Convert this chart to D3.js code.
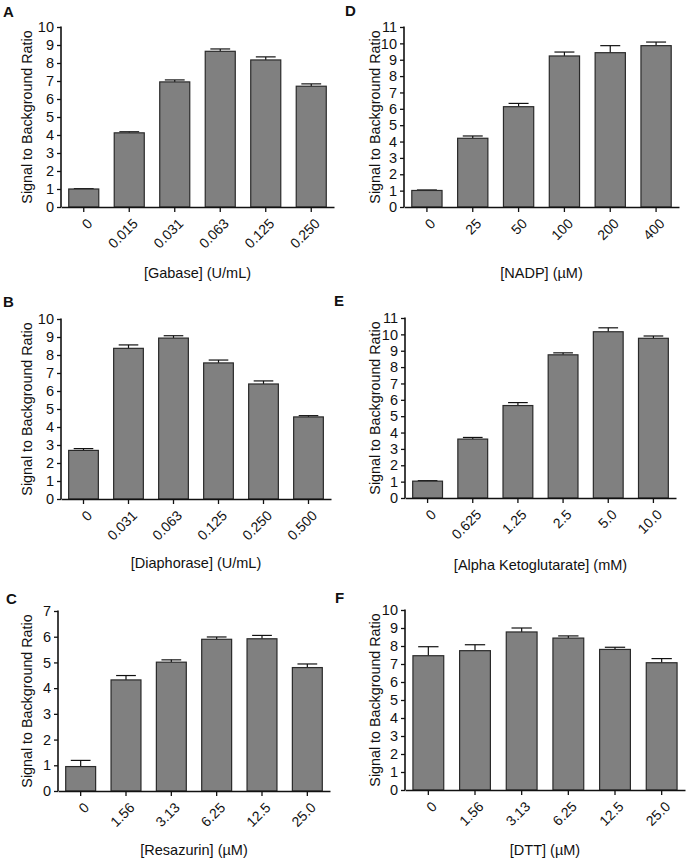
<!DOCTYPE html>
<html>
<head>
<meta charset="utf-8">
<script src="https://cdn.jsdelivr.net/npm/d3@7"></script>
<style>
  body { margin: 0; background: #fff; }
  svg text { font-family: Arial, "Liberation Sans", Helvetica, sans-serif; fill: #111; }
</style>
</head>
<body>
<div id="chart"></div>
<script>
var yTitle = 'Signal to Background Ratio';

var catsA = ['0', '0.015', '0.031', '0.063', '0.125', '0.250'];
var valsA = [1.0, 4.12, 6.95, 8.65, 8.17, 6.71];
var errA = [0.02, 0.06, 0.11, 0.13, 0.17, 0.13];

var catsB = ['0', '0.031', '0.063', '0.125', '0.250', '0.500'];
var valsB = [2.70, 8.37, 8.94, 7.56, 6.39, 4.56];
var errB = [0.10, 0.19, 0.13, 0.16, 0.17, 0.07];

var catsC = ['0', '1.56', '3.13', '6.25', '12.5', '25.0'];
var valsC = [0.95, 4.32, 5.01, 5.90, 5.92, 4.80];
var errC = [0.24, 0.17, 0.09, 0.09, 0.13, 0.14];

var catsD = ['0', '25', '50', '100', '200', '400'];
var valsD = [1.01, 4.20, 6.13, 9.23, 9.43, 9.86];
var errD = [0.03, 0.14, 0.20, 0.24, 0.43, 0.22];

var catsE = ['0', '0.625', '1.25', '2.5', '5.0', '10.0'];
var valsE = [1.03, 3.60, 5.65, 8.75, 10.16, 9.76];
var errE = [0.03, 0.10, 0.18, 0.12, 0.24, 0.14];

var catsF = ['0', '1.56', '3.13', '6.25', '12.5', '25.0'];
var valsF = [7.46, 7.74, 8.78, 8.44, 7.81, 7.07];
var errF = [0.50, 0.33, 0.22, 0.12, 0.12, 0.23];

(function(){

  var svg = d3.select('#chart')
    .append('svg')
    .attr('width', 689)
    .attr('height', 861);

  function panel(p) {
    var x = d3.scaleBand()
      .domain(p.cats)
      .range([p.x0, p.x1])
      .paddingInner(0.34)
      .paddingOuter(0.17);

    var y = d3.scaleLinear()
      .domain([0, p.ymax])
      .range([p.y1, p.y0]);

    var g = svg.append('g');
    var rows = p.cats.map(function(c, i) {
      return {cat: c, v: p.vals[i], e: p.errs[i]};
    });

    // error bars (upper only), drawn under the bars
    var capW = x.bandwidth() * 0.66;
    var eb = g.selectAll('g.err')
      .data(rows)
      .enter()
      .append('g')
      .attr('class', 'err')
      .attr('stroke', '#111')
      .attr('stroke-width', 1.2);
    eb.append('line')
      .attr('x1', function(d) {return x(d.cat) + x.bandwidth() / 2;})
      .attr('x2', function(d) {return x(d.cat) + x.bandwidth() / 2;})
      .attr('y1', function(d) {return y(d.v);})
      .attr('y2', function(d) {return y(d.v + d.e);});
    eb.append('line')
      .attr('x1', function(d) {return x(d.cat) + x.bandwidth() / 2 - capW / 2;})
      .attr('x2', function(d) {return x(d.cat) + x.bandwidth() / 2 + capW / 2;})
      .attr('y1', function(d) {return y(d.v + d.e);})
      .attr('y2', function(d) {return y(d.v + d.e);});

    g.selectAll('rect.bar')
      .data(rows)
      .enter()
      .append('rect')
      .attr('class', 'bar')
      .attr('x', function(d) {return x(d.cat);})
      .attr('width', x.bandwidth())
      .attr('y', function(d) {return y(d.v);})
      .attr('height', function(d) {return y(0) - y(d.v);})
      .attr('fill', '#808080')
      .attr('stroke', '#2a2a2a')
      .attr('stroke-width', 1.2);

    // y axis
    var ya = g.append('g')
      .attr('transform', 'translate(' + p.x0 + ',0)')
      .call(d3.axisLeft(y).ticks(p.ymax).tickSize(4).tickPadding(3).tickSizeOuter(0));
    ya.select('.domain').attr('stroke', '#111').attr('stroke-width', 1.6)
      .attr('d', 'M0,' + (p.y0 - 0.5) + 'V' + p.y1);
    ya.selectAll('.tick line').attr('stroke', '#111').attr('stroke-width', 1.3);
    ya.selectAll('.tick text').attr('font-size', 14.5).style('fill', '#111');

    // x axis
    var xa = g.append('g')
      .attr('transform', 'translate(0,' + p.y1 + ')')
      .call(d3.axisBottom(x).tickSize(5).tickSizeOuter(0));
    xa.select('.domain').attr('stroke', '#111').attr('stroke-width', 1.6);
    xa.selectAll('.tick line').attr('stroke', '#111').attr('stroke-width', 1.3);
    xa.selectAll('.tick text')
      .attr('font-size', 14)
      .style('fill', '#111')
      .attr('text-anchor', 'end')
      .attr('y', 0)
      .attr('dy', '0.35em')
      .attr('transform', 'translate(6,14) rotate(-45)');

    g.append('text')
      .attr('x', (p.x0 + p.x1) / 2)
      .attr('y', p.y1 + p.titleDy)
      .attr('text-anchor', 'middle')
      .attr('font-size', 14.5)
      .text(p.xTitle);

    g.append('text')
      .attr('transform', 'translate(' + p.ylx + ',' + (p.y0 + p.y1) / 2 + ') rotate(-90)')
      .attr('text-anchor', 'middle')
      .attr('dy', '0.35em')
      .attr('font-size', 14.3)
      .text(yTitle);

    g.append('text')
      .attr('x', p.lx)
      .attr('y', p.ly)
      .attr('font-size', 15)
      .attr('font-weight', 'bold')
      .text(p.label);
  }

  panel({label: 'A', lx: 3, ly: 17, cats: catsA, vals: valsA, errs: errA, ymax: 10,
    x0: 61, x1: 334, y0: 27, y1: 207, ylx: 27, titleDy: 71, xTitle: '[Gabase] (U/mL)'});
  panel({label: 'B', lx: 3, ly: 307, cats: catsB, vals: valsB, errs: errB, ymax: 10,
    x0: 61, x1: 331, y0: 319, y1: 499, ylx: 27, titleDy: 69, xTitle: '[Diaphorase] (U/mL)'});
  panel({label: 'C', lx: 6, ly: 604, cats: catsC, vals: valsC, errs: errC, ymax: 7,
    x0: 58, x1: 330, y0: 611, y1: 791, ylx: 27, titleDy: 64, xTitle: '[Resazurin] (\u00b5M)'});
  panel({label: 'D', lx: 345, ly: 16, cats: catsD, vals: valsD, errs: errD, ymax: 11,
    x0: 404, x1: 679, y0: 27, y1: 207, ylx: 375, titleDy: 71, xTitle: '[NADP] (\u00b5M)'});
  panel({label: 'E', lx: 334, ly: 306, cats: catsE, vals: valsE, errs: errE, ymax: 11,
    x0: 405, x1: 676, y0: 318, y1: 498, ylx: 375, titleDy: 72, xTitle: '[Alpha Ketoglutarate] (mM)'});
  panel({label: 'F', lx: 335, ly: 603, cats: catsF, vals: valsF, errs: errF, ymax: 10,
    x0: 405, x1: 685, y0: 610, y1: 790, ylx: 375, titleDy: 65, xTitle: '[DTT] (\u00b5M)'});
})();
</script>
</body>
</html>
